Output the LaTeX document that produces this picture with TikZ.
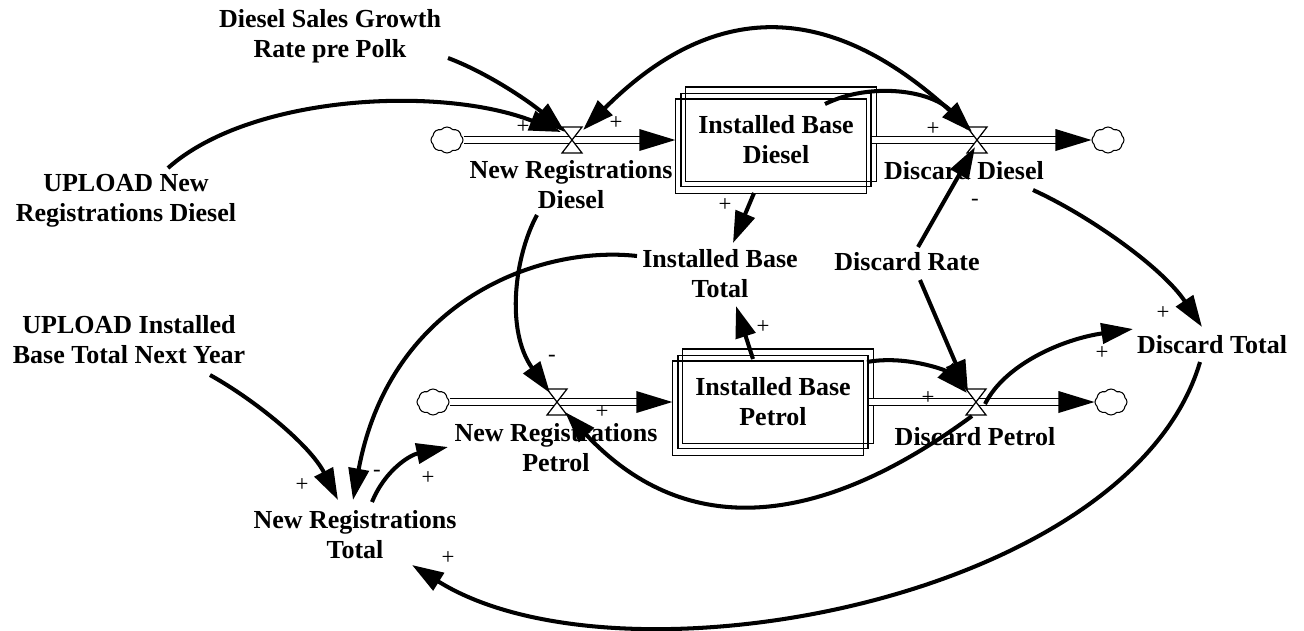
\documentclass[tikz,border=0pt]{standalone}
\usepackage{fontspec}
\setmainfont{Liberation Serif}
\usetikzlibrary{arrows.meta,shapes.symbols}
\begin{document}
\begin{tikzpicture}[x=0.02cm,y=-0.02cm]
\tikzset{
 var/.style={align=center, font=\fontsize{14.8}{17}\selectfont\bfseries, inner sep=1pt},
 sgn/.style={font=\fontsize{13}{13}\selectfont, inner sep=0pt},
 causal/.style={line width=2.3pt, -{Triangle[length=18pt,width=11.5pt]}},
 pipe/.style={draw=black, line width=0.7pt, double=white, double distance=3.4pt},
 valvenode/.style={minimum width=0.4cm, minimum height=0.52cm, inner sep=0pt, outer sep=0pt},
 valveline/.style={line width=0.7pt, fill=white},
 stockbox/.style={draw, line width=0.8pt, minimum width=3.8cm, minimum height=1.86cm, inner sep=0pt, align=center, font=\fontsize{14.8}{17}\selectfont\bfseries},
 stockline/.style={line width=0.8pt},
 cloudnode/.style={cloud, cloud puffs=8, cloud puff arc=100, cloud ignores aspect, draw, line width=0.6pt, fill=white, minimum width=0.64cm, minimum height=0.52cm, inner sep=0pt},
}
\useasboundingbox[fill=white] (0,0) rectangle (1304,630);

% stocks
\node[stockbox] (IBD) at (776,140) {Installed Base\\Diesel};
\node[stockbox] (IBP) at (773,402) {Installed Base\\Petrol};
\foreach \s in {IBD,IBP}{
 \draw[stockline] ([shift={(-5,6)}]\s.south west) rectangle ([shift={(-5,6)}]\s.north east);
 \draw[stockline] ([shift={(5,-6)}]\s.south west) rectangle ([shift={(5,-6)}]\s.north east);
}

% clouds
\node[cloudnode] (cND) at (447,140) {};
\node[cloudnode] (cDD) at (1108,140) {};
\node[cloudnode] (cNP) at (433,402) {};
\node[cloudnode] (cDP) at (1111,402) {};

% valves (nodes)
\node[valvenode] (vND) at (572,140) {};
\node[valvenode] (vDD) at (977,140) {};
\node[valvenode] (vNP) at (557,402) {};
\node[valvenode] (vDP) at (976,402) {};

% pipes
\draw[pipe] (cND.east) -- ([xshift=-0.7cm]IBD.west);
\fill ([xshift=-0.1cm]IBD.west) -- ++(-36,-11) -- ++(0,22) -- cycle;
\draw[pipe] (IBD.east) -- ([xshift=-0.6cm]cDD.west);
\fill (cDD.west) -- ++(-36,-11) -- ++(0,22) -- cycle;
\draw[pipe] (cNP.east) -- ([xshift=-0.7cm]IBP.west);
\fill ([xshift=-0.1cm]IBP.west) -- ++(-36,-11) -- ++(0,22) -- cycle;
\draw[pipe] (IBP.east) -- ([xshift=-0.6cm]cDP.west);
\fill (cDP.west) -- ++(-36,-11) -- ++(0,22) -- cycle;

% valve glyphs
\foreach \v in {vND,vDD,vNP,vDP}{
 \draw[valveline] (\v.north west) -- (\v.north east) -- (\v.south west) -- (\v.south east) -- cycle;
}

% variables
\node[var] (DSG) at (330,36) {Diesel Sales Growth\\Rate pre Polk};
\node[var] (UND) at (126,201) {UPLOAD New\\Registrations Diesel};
\node[var] (NRDl) at (571,185) {New Registrations\\Diesel};
\node[var] (DDl) at (964,171) {Discard Diesel};
\node[var] (IBT) at (720,274) {Installed Base\\Total};
\node[var] (DR) at (907,262) {Discard Rate};
\node[var] (UIB) at (129,340) {UPLOAD Installed\\Base Total Next Year};
\node[var] (DT) at (1212,345) {Discard Total};
\node[var] (NRPl) at (556,448) {New Registrations\\Petrol};
\node[var] (DPl) at (975,437) {Discard Petrol};
\node[var] (NRT) at (355,535) {New Registrations\\Total};

% causal links
\draw[causal] ([shift={(118,22)}]DSG.center) .. controls +(40,15) and +(-35,-30) .. ([shift={(-7,-8)}]vND.center);
\draw[causal] ([shift={(42,-33)}]UND.center) .. controls +(82,-73) and +(-121,-47) .. ([shift={(-11,-8)}]vND.center);
\draw[causal] ([shift={(49,-36)}]IBD.center) .. controls +(45,-22) and +(-42,-42) .. ([shift={(-5,-8)}]vDD.center);
\draw[causal] ([shift={(-9,-12)}]vDD.center) .. controls +(-131,-131) and +(133,-133) .. ([shift={(11,-10)}]vND.center);
\draw[causal] ([shift={(-34,30)}]NRDl.center) .. controls +(-22,40) and +(-45,-63) .. ([shift={(-7,-9)}]vNP.center);
\draw[causal] ([shift={(-22,53)}]IBD.center) -- ([shift={(13,-31)}]IBT.center);
\draw[causal] ([shift={(-20,-43)}]IBP.center) -- ([shift={(16,32)}]IBT.center);
\draw[causal] ([shift={(-83,-18)}]IBT.center) .. controls +(-97,-11) and +(37,-200) .. ([shift={(-2,-35)}]NRT.center);
\draw[causal] ([shift={(81,35)}]UIB.center) .. controls +(45,25) and +(-28,-55) .. ([shift={(-17,-35)}]NRT.center);
\draw[causal] ([shift={(17,-33)}]NRT.center) .. controls +(13,-32) and +(-38,8) .. ([shift={(-108,-1)}]NRPl.center);
\draw[causal] ([shift={(11,-15)}]DR.center) -- ([shift={(-2,7)}]vDD.center);
\draw[causal] ([shift={(13,18)}]DR.center) -- ([shift={(-8,-10)}]vDP.center);
\draw[causal] ([shift={(94,-40)}]IBP.center) .. controls +(38,-7) and +(-22,-23) .. ([shift={(-9,-9)}]vDP.center);
\draw[causal] ([shift={(-4,14)}]vDP.center) .. controls +(-162,119) and +(115,123) .. ([shift={(8,10)}]vNP.center);
\draw[causal] ([shift={(9,2)}]vDP.center) .. controls +(20,-40) and +(-70,10) .. ([shift={(-79,-16)}]DT.center);
\draw[causal] ([shift={(69,19)}]DDl.center) .. controls +(55,25) and +(-40,-60) .. ([shift={(-10,-18)}]DT.center);
\draw[causal] ([shift={(-12,17)}]DT.center) .. controls +(-70,238) and +(208,130) .. ([shift={(57,30)}]NRT.center);

% polarities
\node[sgn] (s1) at (523,127) {+};
\node[sgn] (s2) at (616,123) {+};
\node[sgn] (s3) at (933,129) {+};
\node[sgn] (s4) at (975,202) {-};
\node[sgn] (s5) at (725,205) {+};
\node[sgn] (s6) at (763,327) {+};
\node[sgn] (s7) at (552,358) {-};
\node[sgn] (s8) at (602,412) {+};
\node[sgn] (s9) at (928,398) {+};
\node[sgn] (s10) at (302,485) {+};
\node[sgn] (s11) at (377,473) {-};
\node[sgn] (s12) at (428,478) {+};
\node[sgn] (s13) at (448,558) {+};
\node[sgn] (s14) at (1163,313) {+};
\node[sgn] (s15) at (1102,353) {+};
\end{tikzpicture}
\end{document}
